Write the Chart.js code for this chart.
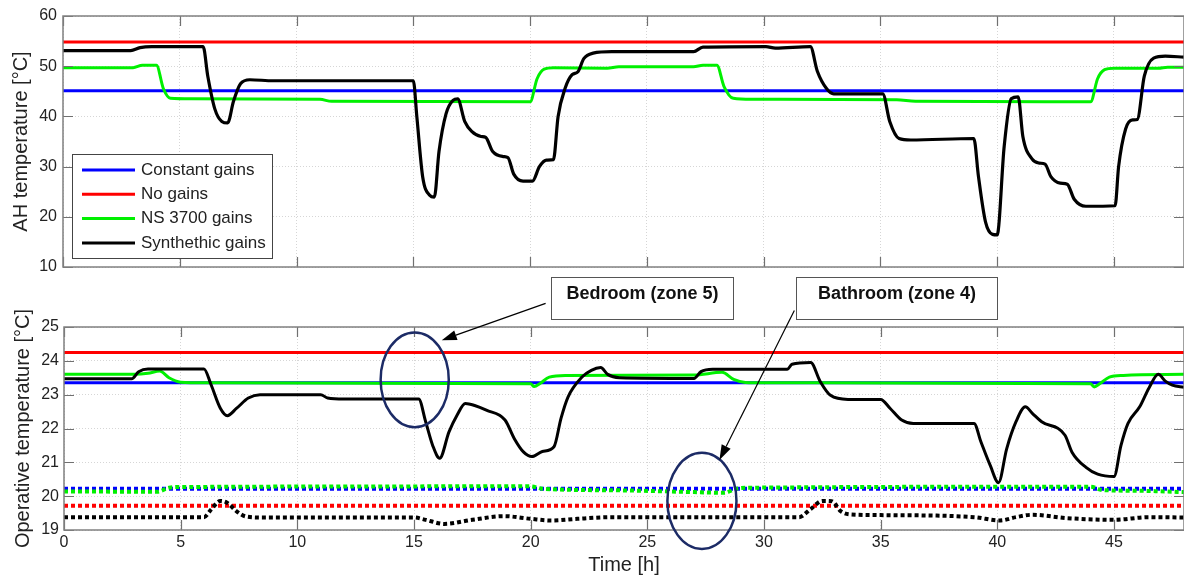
<!DOCTYPE html>
<html>
<head>
<meta charset="utf-8">
<script src="https://cdn.jsdelivr.net/npm/chart.js@4/dist/chart.umd.min.js"></script>
<style>
  html, body { margin: 0; padding: 0; background: #fff; }
  #wrap { position: relative; width: 1184px; height: 580px; overflow: hidden; }
  canvas { position: absolute; left: 0; }
</style>
</head>
<body>
<div id="wrap">
  <canvas id="ahChart" width="1184" height="290" style="top:0"></canvas>
  <canvas id="opChart" width="1184" height="310" style="top:270px"></canvas>
</div>
<script>
// ---- data: [hour, value] pairs ----
const seriesNames = ['Constant gains', 'No gains', 'NS 3700 gains', 'Synthethic gains'];

// top panel: AH temperature
const ahConstant = [[0, 45.1], [48, 45.1]];
const ahNoGains = [[0, 54.8], [48, 54.8]];
const ahNs3700 = [[0, 49.7], [3.0, 49.7], [3.4, 50.2], [4.0, 50.2], [4.3, 45.5], [4.6, 43.6], [5.5, 43.5],
  [11.0, 43.4], [11.5, 43.0], [20.0, 42.9], [20.3, 47.5], [20.6, 49.4], [21.0, 49.7], [23.3, 49.6],
  [23.8, 49.9], [27.0, 49.9], [27.4, 50.2], [28.0, 50.2], [28.3, 46.0], [28.7, 43.6], [29.5, 43.4],
  [35.7, 43.3], [36.5, 43.0], [44.0, 42.9], [44.3, 47.5], [44.6, 49.3], [45.0, 49.6], [46.9, 49.6],
  [47.3, 49.8], [48, 49.8]];
const ahSynthetic = [[0, 53.1], [2.9, 53.1], [3.3, 53.7], [3.8, 53.9], [6.0, 53.9], [6.2, 48], [6.5, 41.5],
  [6.8, 39.0], [7.05, 38.7], [7.3, 43], [7.6, 46.5], [8.0, 47.3], [9.0, 47.1], [15.0, 47.1], [15.15, 40],
  [15.4, 28], [15.7, 24.3], [15.9, 23.9], [16.1, 33], [16.4, 40.5], [16.7, 43.2], [16.9, 43.5], [17.2, 39],
  [17.5, 37], [17.9, 36.0], [18.1, 35.8], [18.4, 33], [18.85, 32], [19.05, 31.8], [19.3, 28.5], [19.7, 27.1],
  [20.1, 27.1], [20.4, 30], [20.7, 31.3], [21.0, 31.4], [21.2, 40], [21.5, 45.6], [21.8, 48.3], [22.05, 48.9],
  [22.3, 51.5], [22.7, 52.6], [23.5, 52.9], [27.0, 52.9], [27.4, 53.8], [30.1, 53.9], [30.5, 53.6],
  [32.0, 53.9], [32.3, 49], [32.7, 45.5], [33.0, 44.5], [35.1, 44.5], [35.4, 39], [35.8, 35.6], [36.3, 35.3],
  [39.0, 35.6], [39.2, 28], [39.5, 19], [39.8, 16.5], [40.0, 16.4], [40.3, 34], [40.6, 43.5], [40.9, 43.9],
  [41.1, 36], [41.5, 31.5], [41.8, 30.7], [42.05, 30.5], [42.3, 28], [42.7, 26.7], [43.0, 26.5], [43.3, 23.5],
  [43.8, 22.1], [45.05, 22.2], [45.2, 30], [45.5, 37.5], [45.8, 39.3], [46.0, 39.4], [46.3, 48], [46.7, 51.6],
  [47.2, 52.0], [48, 51.8]];

// bottom panel: operative temperature, bedroom (solid)
const bedConstant = [[0, 23.35], [48, 23.35]];
const bedNoGains = [[0, 24.25], [48, 24.25]];
const bedNs3700 = [[0, 23.6], [3.0, 23.6], [3.6, 23.63], [4.1, 23.7], [4.5, 23.5], [5.0, 23.37], [6, 23.35],
  [20.0, 23.32], [20.15, 23.24], [20.4, 23.33], [20.8, 23.52], [21.5, 23.57], [27.0, 23.58], [28.2, 23.66],
  [28.7, 23.45], [29.2, 23.36], [30, 23.35], [44.0, 23.32], [44.15, 23.23], [44.4, 23.33], [44.8, 23.52],
  [45.4, 23.57], [48, 23.6]];
const bedSynthetic = [[0, 23.47], [2.9, 23.47], [3.2, 23.68], [3.6, 23.76], [6.0, 23.76], [6.3, 23.3],
  [6.7, 22.6], [7.0, 22.38], [7.4, 22.6], [7.9, 22.9], [8.4, 23.0], [11.0, 23.0], [11.3, 22.9], [12, 22.87],
  [15.2, 22.87], [15.5, 22.2], [15.8, 21.5], [16.1, 21.12], [16.5, 21.9], [16.85, 22.4], [17.2, 22.74],
  [17.6, 22.68], [18.1, 22.54], [18.9, 22.25], [19.3, 21.7], [19.7, 21.3], [20.05, 21.17], [20.5, 21.32],
  [21.0, 21.46], [21.3, 22.3], [21.6, 22.93], [22.2, 23.52], [22.6, 23.72], [23.0, 23.8], [23.3, 23.6],
  [23.8, 23.5], [27.0, 23.48], [27.3, 23.68], [27.8, 23.75], [31.0, 23.75], [31.2, 23.9], [32.0, 23.95],
  [32.4, 23.4], [32.85, 22.98], [33.6, 22.86], [35.0, 22.86], [35.4, 22.6], [35.9, 22.25], [36.4, 22.15],
  [39.0, 22.15], [39.3, 21.6], [39.7, 20.9], [40.05, 20.4], [40.4, 21.4], [40.8, 22.2], [41.2, 22.64],
  [41.5, 22.45], [41.9, 22.2], [42.9, 21.8], [43.2, 21.3], [43.8, 20.85], [44.3, 20.65], [45.0, 20.58],
  [45.3, 21.5], [45.6, 22.15], [46.1, 22.64], [46.5, 23.2], [46.9, 23.6], [47.2, 23.4], [47.5, 23.28],
  [48, 23.22]];

// bottom panel: bathroom (dotted)
const bathConstant = [[0, 20.22], [48, 20.22]];
const bathNoGains = [[0, 19.72], [48, 19.72]];
const bathNs3700 = [[0, 20.14], [4.0, 20.13], [4.5, 20.25], [5, 20.27], [20.0, 20.29], [20.5, 20.22],
  [24, 20.17], [27.0, 20.12], [28.3, 20.1], [28.8, 20.22], [29.5, 20.25], [44.0, 20.28], [44.5, 20.18],
  [46, 20.16], [48, 20.12]];
const bathSynthetic = [[0, 19.38], [6.0, 19.38], [6.3, 19.6], [6.7, 19.86], [7.0, 19.8], [7.4, 19.55],
  [7.8, 19.4], [8.5, 19.37], [15.0, 19.37], [15.5, 19.3], [16.3, 19.18], [17.5, 19.3], [18.85, 19.41],
  [20.0, 19.33], [20.9, 19.28], [22, 19.33], [23.5, 19.38], [31.5, 19.38], [32.0, 19.62], [32.5, 19.86],
  [32.9, 19.85], [33.3, 19.55], [33.7, 19.46], [35, 19.44], [39, 19.38], [40.1, 19.28], [40.8, 19.38],
  [41.5, 19.45], [43, 19.35], [45.0, 19.3], [46.5, 19.38], [48, 19.37]];

// annotations (data units of the lower panel)
const noteLabels = ['Bedroom (zone 5)', 'Bathroom (zone 4)'];
const noteBoxes = [[20.86, 28.69, 26.47, 25.23], [31.39, 40.0, 26.47, 25.23]];
const noteArrows = [[20.64, 25.70, 16.19, 24.61], [31.3, 25.49, 28.09, 21.07]];
const noteEllipses = [[15.03, 23.44, 1.46, 1.40], [27.34, 19.86, 1.48, 1.42]];

const colors = ['#0000ff', '#ff0000', '#00f000', '#000000'];
const textColor = '#222';
const fontFamily = 'Arial, "Liberation Sans", Helvetica, sans-serif';

Chart.defaults.font.family = fontFamily;
Chart.defaults.color = textColor;

const toPoints = (arr) => arr.map(([x, y]) => ({ x: x, y: y }));

const line = (arr, color, width, order, dash) => ({
  data: toPoints(arr),
  borderColor: color,
  borderWidth: width,
  borderDash: dash || [],
  pointRadius: 0,
  fill: false,
  order: order,
  cubicInterpolationMode: 'monotone'
});

const keepFives = (scale) => {
  scale.ticks = scale.ticks.filter((t) => t.value % 5 === 0);
};

// box + inward ticks like the original figure
const framePlugin = {
  id: 'frame',
  afterDatasetsDraw(chart) {
    const { ctx, chartArea: a, scales } = chart;
    ctx.save();
    ctx.strokeStyle = '#707070';
    ctx.lineWidth = 1.2;
    ctx.beginPath();
    scales.x.ticks.forEach((t) => {
      const px = Math.round(scales.x.getPixelForValue(t.value)) + 0.5;
      ctx.moveTo(px, a.top); ctx.lineTo(px, a.top + 10);
      ctx.moveTo(px, a.bottom); ctx.lineTo(px, a.bottom - 10);
    });
    scales.y.ticks.forEach((t) => {
      const py = Math.round(scales.y.getPixelForValue(t.value)) + 0.5;
      ctx.moveTo(a.left, py); ctx.lineTo(a.left + 10, py);
      ctx.moveTo(a.right, py); ctx.lineTo(a.right - 10, py);
    });
    ctx.stroke();
    ctx.strokeStyle = '#808080';
    ctx.lineWidth = 1.5;
    ctx.strokeRect(a.left, a.top, a.right - a.left, a.bottom - a.top);
    ctx.restore();
  }
};

const legendPlugin = {
  id: 'boxLegend',
  afterDraw(chart) {
    const { ctx, chartArea: a } = chart;
    const bx = a.left + 9, by = a.bottom - 113, bw = 200, bh = 104;
    ctx.save();
    ctx.fillStyle = '#fff';
    ctx.fillRect(bx, by, bw, bh);
    ctx.strokeStyle = '#444';
    ctx.lineWidth = 1;
    ctx.strokeRect(bx + 0.5, by + 0.5, bw, bh);
    ctx.font = '17px ' + fontFamily;
    ctx.textBaseline = 'middle';
    seriesNames.forEach((name, i) => {
      const y = by + 16 + i * 24.3;
      ctx.strokeStyle = colors[i];
      ctx.lineWidth = 3;
      ctx.beginPath();
      ctx.moveTo(bx + 10, y); ctx.lineTo(bx + 63, y);
      ctx.stroke();
      ctx.fillStyle = textColor;
      ctx.fillText(name, bx + 69, y);
    });
    ctx.restore();
  }
};

const notesPlugin = {
  id: 'notes',
  afterDraw(chart) {
    const { ctx, scales } = chart;
    const X = (v) => scales.x.getPixelForValue(v);
    const Y = (v) => scales.y.getPixelForValue(v);
    ctx.save();
    // ellipses
    ctx.strokeStyle = '#1c2b66';
    ctx.lineWidth = 2.5;
    noteEllipses.forEach(([cx, cy, rx, ry]) => {
      ctx.beginPath();
      ctx.ellipse(X(cx), Y(cy), Math.abs(X(cx + rx) - X(cx)), Math.abs(Y(cy + ry) - Y(cy)), 0, 0, Math.PI * 2);
      ctx.stroke();
    });
    // arrows
    ctx.strokeStyle = '#000';
    ctx.fillStyle = '#000';
    ctx.lineWidth = 1.2;
    noteArrows.forEach(([x1, y1, x2, y2]) => {
      const p1 = [X(x1), Y(y1)], p2 = [X(x2), Y(y2)];
      const ang = Math.atan2(p2[1] - p1[1], p2[0] - p1[0]);
      const len = 15, half = 5;
      const bx = p2[0] - len * Math.cos(ang), by = p2[1] - len * Math.sin(ang);
      ctx.beginPath();
      ctx.moveTo(p1[0], p1[1]); ctx.lineTo(bx, by);
      ctx.stroke();
      ctx.beginPath();
      ctx.moveTo(p2[0], p2[1]);
      ctx.lineTo(bx + half * Math.sin(ang), by - half * Math.cos(ang));
      ctx.lineTo(bx - half * Math.sin(ang), by + half * Math.cos(ang));
      ctx.closePath();
      ctx.fill();
    });
    // text boxes
    ctx.font = 'bold 18px ' + fontFamily;
    ctx.textAlign = 'center';
    ctx.textBaseline = 'middle';
    noteBoxes.forEach(([x1, x2, yt, yb], i) => {
      const l = Math.round(X(x1)) + 0.5, r = Math.round(X(x2)) + 0.5;
      const t = Math.round(Y(yt)) + 0.5, b = Math.round(Y(yb)) + 0.5;
      ctx.fillStyle = '#fff';
      ctx.fillRect(l, t, r - l, b - t);
      ctx.strokeStyle = '#555';
      ctx.lineWidth = 1;
      ctx.strokeRect(l, t, r - l, b - t);
      ctx.fillStyle = '#111';
      ctx.fillText(noteLabels[i], (l + r) / 2, (t + b) / 2 - 4);
    });
    ctx.restore();
  }
};

const gridOpts = { color: '#d6d6d6', lineWidth: 1, drawTicks: false };
const borderOpts = { display: false, dash: [1, 2] };
const dotted = [4, 3];

new Chart(document.getElementById('ahChart'), {
  type: 'line',
  data: {
    datasets: [
      line(ahConstant, colors[0], 3, 4),
      line(ahNoGains, colors[1], 3, 3),
      line(ahNs3700, colors[2], 3, 2),
      line(ahSynthetic, colors[3], 3.2, 1)
    ]
  },
  options: {
    responsive: false,
    animation: false,
    events: [],
    layout: { padding: { top: 16, bottom: 23, left: 0, right: 0 } },
    plugins: { legend: { display: false }, tooltip: { enabled: false } },
    scales: {
      x: {
        type: 'linear', min: 0, max: 48,
        ticks: { display: false, stepSize: 5 },
        afterBuildTicks: keepFives,
        afterFit: (s) => { s.height = 0; s.paddingLeft = 0; s.paddingRight = 0; },
        grid: gridOpts, border: borderOpts
      },
      y: {
        min: 10, max: 60,
        ticks: { stepSize: 10, padding: 6, font: { size: 16 }, color: textColor },
        title: { display: true, text: 'AH temperature [°C]', font: { size: 20 }, color: textColor, padding: { top: 9, bottom: 0 } },
        afterFit: (s) => { s.width = 63; s.paddingTop = 0; s.paddingBottom = 0; },
        grid: gridOpts, border: borderOpts
      }
    }
  },
  plugins: [framePlugin, legendPlugin]
});

new Chart(document.getElementById('opChart'), {
  type: 'line',
  data: {
    datasets: [
      line(bathConstant, colors[0], 4, 8, dotted),
      line(bathNoGains, colors[1], 4, 7, dotted),
      line(bathNs3700, colors[2], 4, 6, dotted),
      line(bathSynthetic, colors[3], 4, 5, dotted),
      line(bedConstant, colors[0], 3, 4),
      line(bedNoGains, colors[1], 3, 3),
      line(bedNs3700, colors[2], 3, 2),
      line(bedSynthetic, colors[3], 3, 1)
    ]
  },
  options: {
    responsive: false,
    animation: false,
    events: [],
    layout: { padding: { top: 57, bottom: 0, left: 0, right: 0 } },
    plugins: { legend: { display: false }, tooltip: { enabled: false } },
    scales: {
      x: {
        type: 'linear', min: 0, max: 48,
        ticks: { stepSize: 5, padding: 3, font: { size: 16 }, color: textColor, maxRotation: 0 },
        afterBuildTicks: keepFives,
        title: { display: true, text: 'Time [h]', font: { size: 20 }, color: textColor, padding: { top: 0, bottom: 3 } },
        afterFit: (s) => { s.height = 50; s.paddingLeft = 0; s.paddingRight = 0; },
        grid: gridOpts, border: borderOpts
      },
      y: {
        min: 19, max: 25,
        ticks: { stepSize: 1, padding: 5, font: { size: 16 }, color: textColor },
        title: { display: true, text: 'Operative temperature [°C]', font: { size: 20 }, color: textColor, padding: { top: 11, bottom: 0 } },
        afterFit: (s) => { s.width = 64; s.paddingTop = 0; s.paddingBottom = 0; },
        grid: gridOpts, border: borderOpts
      }
    }
  },
  plugins: [framePlugin, notesPlugin]
});
</script>
</body>
</html>
